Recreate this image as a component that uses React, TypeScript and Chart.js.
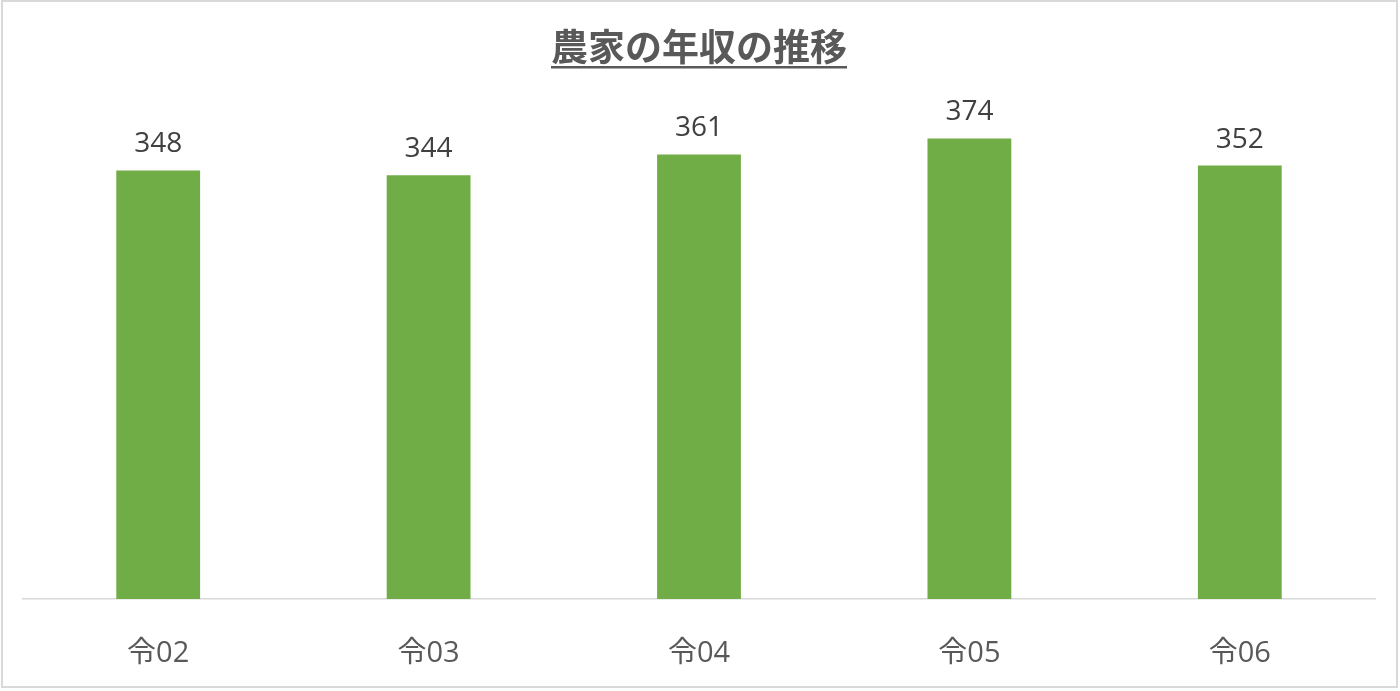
import React, { useEffect, useRef } from 'react';
import { Chart, registerables, Plugin } from 'chart.js';

Chart.register(...registerables);

const titulo = '農家の年収の推移';
const categorias = ['令02', '令03', '令04', '令05', '令06'];
const nenshu = [348, 344, 361, 374, 352];

const FUENTE = "'Open Sans', 'Noto Sans CJK JP', sans-serif";

// etiquetas de valor encima de cada barra
const etiquetasValor: Plugin<'bar'> = {
  id: 'etiquetasValor',
  afterDatasetsDraw(chart) {
    const ctx = chart.ctx;
    const meta = chart.getDatasetMeta(0);
    ctx.save();
    ctx.font = `28px ${FUENTE}`;
    ctx.fillStyle = '#404040';
    ctx.textAlign = 'center';
    ctx.textBaseline = 'alphabetic';
    meta.data.forEach((bar, i) => {
      ctx.fillText(String(nenshu[i]), bar.x, bar.y - 18);
    });
    ctx.restore();
  },
};

// subrayado del título (Chart.js no lo trae)
const subrayado: Plugin<'bar'> = {
  id: 'subrayado',
  afterDraw(chart) {
    const tb = (chart as any).titleBlock;
    if (!tb) return;
    const ctx = chart.ctx;
    ctx.save();
    ctx.font = `bold 37px 'Noto Sans CJK JP', sans-serif`;
    const w = ctx.measureText(titulo).width;
    const cx = (chart.chartArea.left + chart.chartArea.right) / 2;
    const cy = tb.top + 25 + 37 * 1.2 / 2;
    ctx.strokeStyle = '#595959';
    ctx.lineWidth = 2.5;
    ctx.beginPath();
    ctx.moveTo(cx - w / 2, cy + 20);
    ctx.lineTo(cx + w / 2, cy + 20);
    ctx.stroke();
    ctx.restore();
  },
};

const App: React.FC = () => {
  const chartRef = useRef<HTMLCanvasElement | null>(null);
  const chartInstance = useRef<Chart | null>(null);

  useEffect(() => {
    document.body.style.margin = '0';
    if (chartRef.current) {
      if (chartInstance.current) {
        chartInstance.current.destroy();
      }
      const ctx = chartRef.current.getContext('2d');
      if (ctx) {
        chartInstance.current = new Chart(ctx, {
          type: 'bar',
          data: {
            labels: categorias,
            datasets: [
              {
                data: nenshu,
                backgroundColor: '#70AD47',
                categoryPercentage: 1,
                barPercentage: 0.31,
              },
            ],
          },
          options: {
            responsive: false,
            animation: false,
            layout: {
              padding: { left: 23, right: 25, top: 0, bottom: 0 },
            },
            plugins: {
              legend: { display: false },
              tooltip: { enabled: false },
              title: {
                display: true,
                text: titulo,
                color: '#595959',
                font: { family: "'Noto Sans CJK JP', sans-serif", size: 37, weight: 'bold' },
                padding: { top: 25, bottom: 37 },
              },
            },
            scales: {
              x: {
                grid: { display: false, drawTicks: false },
                border: { display: true, color: '#d9d9d9', width: 1.5 },
                ticks: {
                  color: '#595959',
                  font: { family: FUENTE, size: 29 },
                  padding: 37,
                  maxRotation: 0,
                },
                afterFit: (scale: any) => {
                  scale.height = 92;
                },
              },
              y: {
                display: false,
                min: 0,
                max: 400,
              },
            },
          },
          plugins: [etiquetasValor, subrayado],
        });
      }
    }

    return () => {
      if (chartInstance.current) {
        chartInstance.current.destroy();
        chartInstance.current = null;
      }
    };
  }, []);

  return (
    <div style={{ position: 'relative', width: 1400, height: 691, background: '#fff' }}>
      <canvas ref={chartRef} width={1400} height={691}></canvas>
      <div
        style={{
          position: 'absolute',
          left: 1,
          top: 0,
          width: 1397,
          height: 688,
          border: '2px solid #d9d9d9',
          boxSizing: 'border-box',
          pointerEvents: 'none',
        }}
      />
    </div>
  );
};

export default App;
